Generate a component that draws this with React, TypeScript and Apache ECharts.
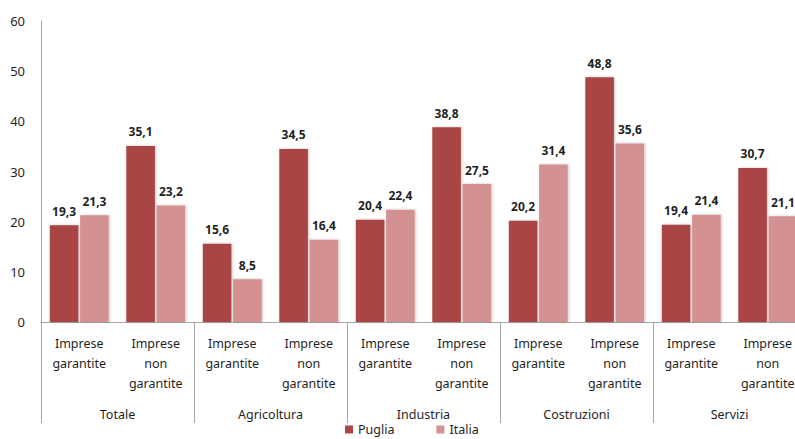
import React, { useEffect, useRef } from "react";
import * as echarts from "echarts";

const categories = [
  "Imprese\ngarantite", "Imprese\nnon\ngarantite",
  "Imprese\ngarantite", "Imprese\nnon\ngarantite",
  "Imprese\ngarantite", "Imprese\nnon\ngarantite",
  "Imprese\ngarantite", "Imprese\nnon\ngarantite",
  "Imprese\ngarantite", "Imprese\nnon\ngarantite",
];
const groups = ["Totale", "Agricoltura", "Industria", "Costruzioni", "Servizi"];
const puglia = [19.3, 35.1, 15.6, 34.5, 20.4, 38.8, 20.2, 48.8, 19.4, 30.7];
const italia = [21.3, 23.2, 8.5, 16.4, 22.4, 27.5, 31.4, 35.6, 21.4, 21.1];
const seriesNames = ["Puglia", "Italia"];

const FONT = "Noto Sans";
const TEXT = "#1f1f1f";
const AXIS = "#a6a6a6";

export default function App() {
  const ref = useRef<HTMLDivElement>(null);
  useEffect(() => {
    const chart = echarts.init(ref.current!, null, { renderer: "svg" });
    const labelCfg = {
      show: true,
      position: "top" as const,
      distance: 8,
      formatter: (p: any) => String(p.value).replace(".", ","),
      fontFamily: FONT,
      fontSize: 12,
      fontWeight: "bold" as const,
      color: TEXT,
    };
    const shadow = {
      shadowColor: "rgba(0,0,0,0.22)",
      shadowBlur: 3,
      shadowOffsetX: 1,
      shadowOffsetY: 0,
    };
    chart.setOption({
      animation: false,
      backgroundColor: "#ffffff",
      grid: { left: 41, top: 21, height: 301, width: 765 },
      legend: {
        top: 421,
        left: 343,
        padding: 2,
        itemWidth: 8,
        itemHeight: 8,
        itemGap: 42,
        icon: "rect",
        textStyle: { fontFamily: FONT, fontSize: 12.5, color: TEXT },
        data: seriesNames,
      },
      xAxis: [
        {
          type: "category",
          data: categories,
          axisLine: { show: true, lineStyle: { color: AXIS, width: 1 } },
          axisTick: { show: false },
          axisLabel: {
            interval: 0,
            margin: 11,
            fontFamily: FONT,
            fontSize: 12.5,
            lineHeight: 20,
            verticalAlign: "top",
            color: TEXT,
          },
        },
        {
          type: "category",
          data: groups,
          position: "bottom",
          axisLine: { show: false },
          axisTick: { show: true, length: 101, lineStyle: { color: AXIS, width: 1 } },
          axisLabel: {
            interval: 0,
            margin: 84,
            fontFamily: FONT,
            fontSize: 12.5,
            lineHeight: 16,
            verticalAlign: "top",
            color: TEXT,
          },
        },
      ],
      yAxis: {
        type: "value",
        min: 0,
        max: 60,
        interval: 10,
        axisLine: { show: true, lineStyle: { color: AXIS, width: 1 } },
        axisTick: { show: false },
        splitLine: { show: false },
        axisLabel: {
          margin: 16,
          fontFamily: FONT,
          fontSize: 13,
          color: TEXT,
        },
      },
      series: [
        {
          name: seriesNames[0],
          type: "bar",
          data: puglia,
          barGap: "6%",
          barCategoryGap: "23%",
          itemStyle: { color: "#a94545", ...shadow },
          label: labelCfg,
        },
        {
          name: seriesNames[1],
          type: "bar",
          data: italia,
          itemStyle: { color: "#d49191", ...shadow },
          label: labelCfg,
        },
      ],
    });
    return () => chart.dispose();
  }, []);
  return (
    <div
      style={{
        position: "absolute",
        left: 0,
        top: 0,
        width: 795,
        height: 439,
        overflow: "hidden",
      }}
    >
      <div ref={ref} style={{ width: 812, height: 439 }} />
    </div>
  );
}
